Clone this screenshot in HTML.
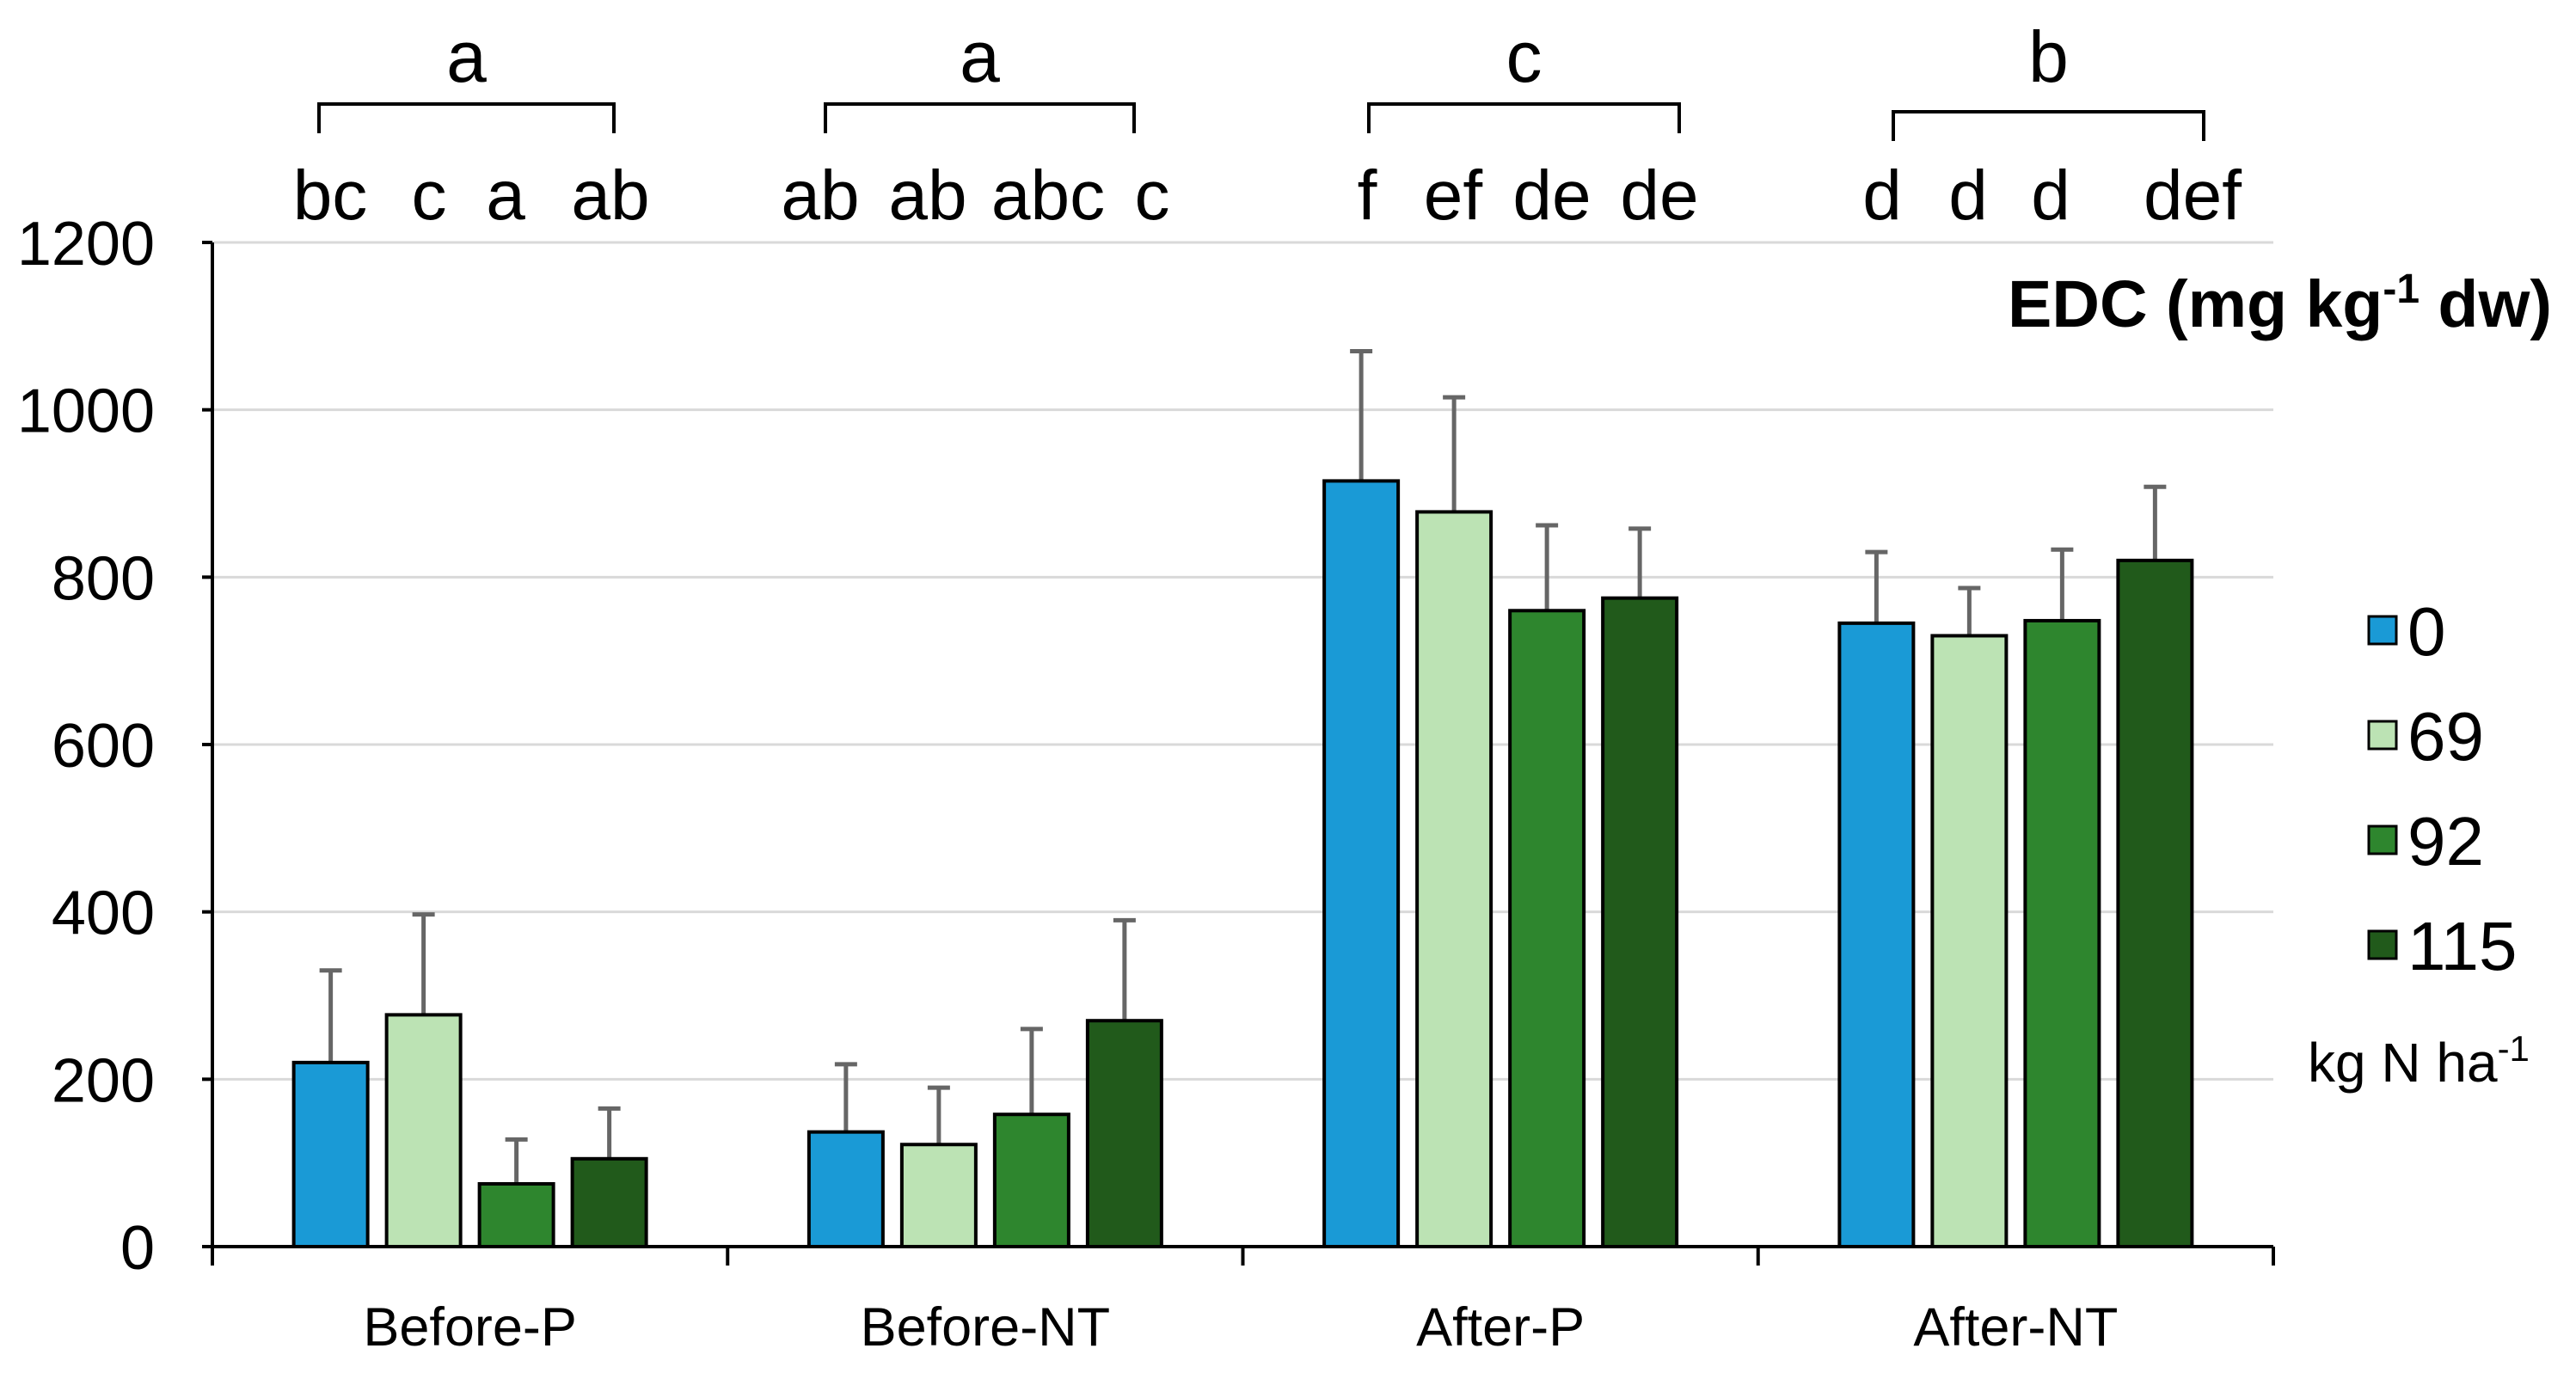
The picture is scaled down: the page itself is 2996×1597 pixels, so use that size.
<!DOCTYPE html>
<html><head><meta charset="utf-8"><style>
html,body{margin:0;padding:0;background:#fff;}
svg{display:block;font-family:"Liberation Sans",sans-serif;}
</style></head><body>
<svg id="chart" width="2996" height="1597" viewBox="0 0 2996 1597">
<g id="grid"></g>
<g id="bars"></g>
<g id="axes"></g>
<g id="letters"></g>
<text x="2968" y="380" text-anchor="end" font-size="77" font-weight="bold">EDC (mg kg<tspan dy="-28" font-size="48">-1</tspan><tspan dy="28"> dw)</tspan></text>
<g id="legend"></g>
<text x="2684" y="1258" font-size="64">kg N ha<tspan dy="-24" font-size="42">-1</tspan></text>
</svg>
<script>
const categories=["Before-P","Before-NT","After-P","After-NT"];
const seriesNames=["0","69","92","115"];
const s0=[220,137,915,745];
const s1=[277,122,878,730];
const s2=[75,158,760,748];
const s3=[105,270,775,820];
const e0=[110,81,155,85];
const e1=[120,68,137,57];
const e2=[53,102,102,85];
const e3=[60,120,83,88];
const yTicks=[0,200,400,600,800,1000,1200];
const barLetters=[["bc","c","a","ab"],["ab","ab","abc","c"],["f","ef","de","de"],["d","d","d","def"]];
const groupLetters=["a","a","c","b"];
const colors=["#1a9ad6","#bce3b4","#2e862e","#215a1b"];
const letterX=[[384,499,588,710],[954,1079,1219,1340],[1590,1690,1805,1930],[2189,2289,2385,2550]];
const bracketL=[371,960,1592,2202],bracketR=[714,1319,1953,2563],bracketY=[121,121,121,130];
const NS="http://www.w3.org/2000/svg";
const X0=247,X1=2644,Y0=1450,YTOP=282,YMAX=1200;
const catW=(X1-X0)/categories.length;
function y(v){return Y0-(v/YMAX)*(Y0-YTOP);}
function catC(i){return X0+catW*(i+0.5);}
function barX(i,j){return catC(i)+(j-1.5)*108;}
function mk(tag,attrs,parent){const e=document.createElementNS(NS,tag);for(const k in attrs)e.setAttribute(k,attrs[k]);parent.appendChild(e);return e;}
const grid=document.getElementById('grid'),bars=document.getElementById('bars'),axes=document.getElementById('axes'),letters=document.getElementById('letters'),legend=document.getElementById('legend');
yTicks.forEach(t=>{
  if(t>0){const g=mk('line',{x1:X0,x2:X1,y1:y(t),y2:y(t),stroke:'#d9d9d9','stroke-width':3},grid);
  
  }
  const tk=mk('line',{x1:X0-12,x2:X0,y1:y(t),y2:y(t),stroke:'#000','stroke-width':4},axes);
  
  
  const lb=mk('text',{x:180,y:y(t)+26,'text-anchor':'end','font-size':72},axes);
  lb.textContent=t;
  
  
});
const series=[s0,s1,s2,s3],errs=[e0,e1,e2,e3];
categories.forEach((c,i)=>{
  series.forEach((s,j)=>{
    const cx=barX(i,j),v=s[i];
    const eb=mk('line',{x1:cx,x2:cx,y1:y(v),y2:y(v+errs[j][i]),stroke:'#666','stroke-width':5},bars);
    
    
    const cap=mk('line',{x1:cx-13,x2:cx+13,y1:y(v+errs[j][i]),y2:y(v+errs[j][i]),stroke:'#666','stroke-width':5},bars);
    
    
    const r=mk('rect',{x:cx-43,y:y(v),width:86,height:Y0-y(v),fill:colors[j],stroke:'#000','stroke-width':4},bars);
    
    
    const lt=mk('text',{x:letterX[i][j],y:255,'text-anchor':'middle','font-size':82},letters);
    lt.textContent=barLetters[i][j];
    
    
  });
  const l=bracketL[i],rr=bracketR[i],by=bracketY[i];
  const br=mk('path',{d:`M${l} ${by+34}V${by}H${rr}V${by+34}`,fill:'none',stroke:'#000','stroke-width':4},letters);
  
  
  const gl=mk('text',{x:(l+rr)/2,y:95,'text-anchor':'middle','font-size':84},letters);
  gl.textContent=groupLetters[i];
  
  
  const cl=mk('text',{x:catC(i),y:1565,'text-anchor':'middle','font-size':63},axes);
  cl.textContent=c;
  
  
});
for(let i=0;i<=categories.length;i++){
  const t=mk('line',{x1:X0+catW*i,x2:X0+catW*i,y1:Y0,y2:Y0+22,stroke:'#000','stroke-width':4},axes);
  
  
}
const ya=mk('line',{x1:X0,x2:X0,y1:YTOP,y2:Y0,stroke:'#000','stroke-width':4},axes);


const xa=mk('line',{x1:X0,x2:X1,y1:Y0,y2:Y0,stroke:'#000','stroke-width':4},axes);


seriesNames.forEach((n,j)=>{
  const cy=733+j*122;
  const sq=mk('rect',{x:2755,y:cy-16,width:32,height:32,fill:colors[j],stroke:'#000','stroke-width':3},legend);
  
  
  const tx=mk('text',{x:2800,y:cy+29,'font-size':80},legend);
  tx.textContent=n;
  
  
});
</script>
</body></html>
